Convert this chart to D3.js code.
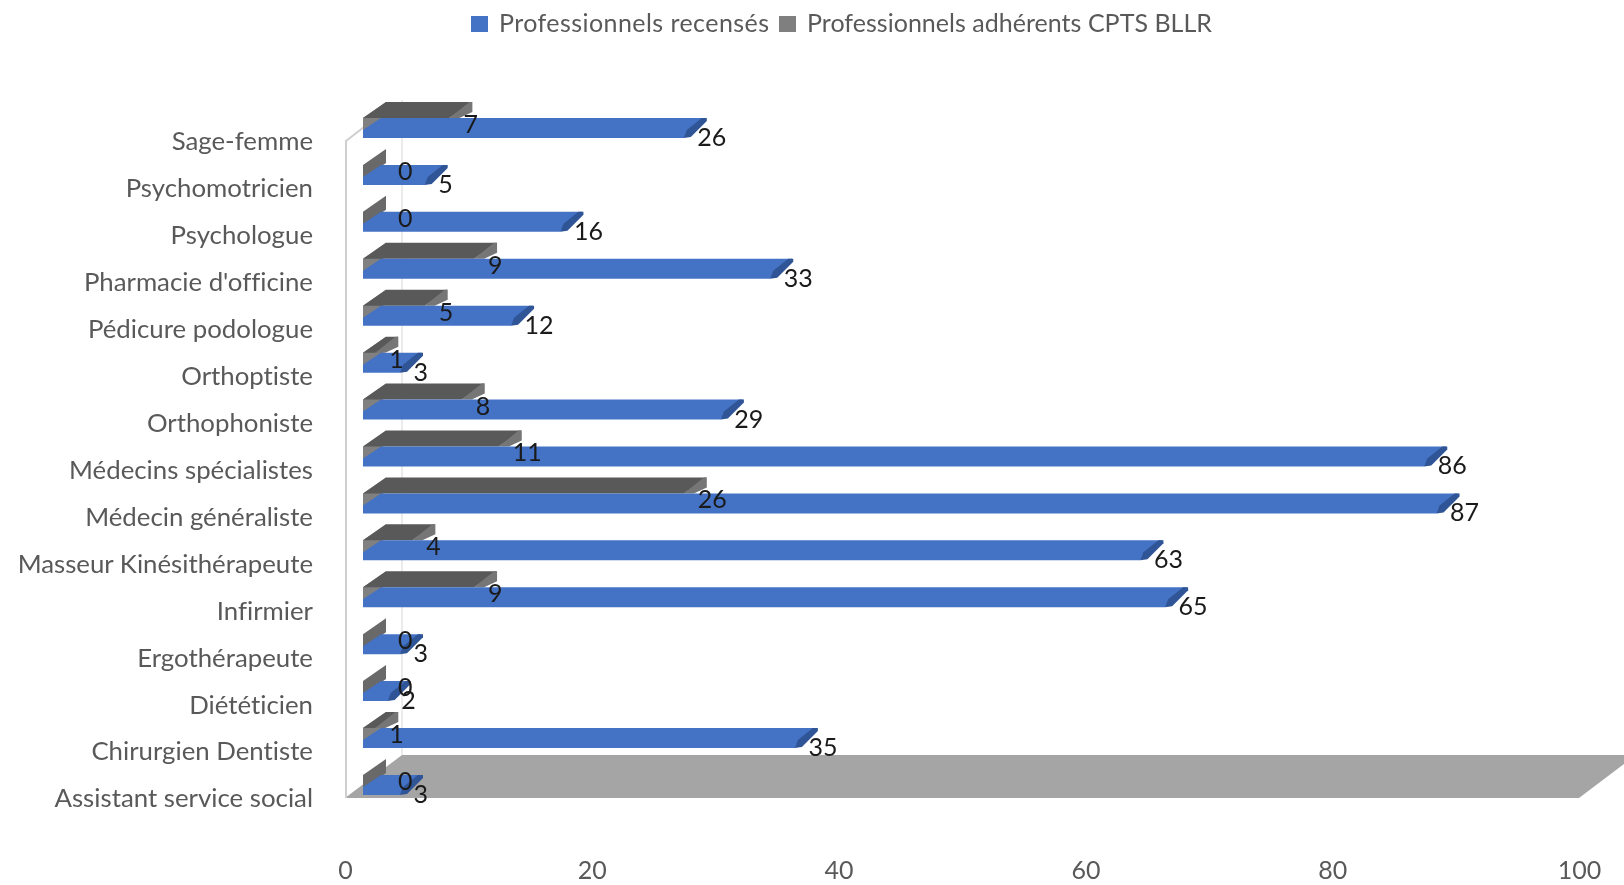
<!DOCTYPE html>
<html>
<head>
<meta charset="utf-8">
<script src="https://cdn.jsdelivr.net/npm/d3@7"></script>
<style>
	html, body {margin: 0; background: #fff;}
	svg {display: block; font-family: Lato, "Open Sans", sans-serif; font-variant-ligatures: none; filter: blur(0.6px);}
</style>
</head>
<body>
<div id="chart"></div>
<script>
const categories = ["Sage-femme", "Psychomotricien", "Psychologue", "Pharmacie d'officine", "Pédicure podologue", "Orthoptiste", "Orthophoniste", "Médecins spécialistes", "Médecin généraliste", "Masseur Kinésithérapeute", "Infirmier", "Ergothérapeute", "Diététicien", "Chirurgien Dentiste", "Assistant service social"];
const recenses = [26, 5, 16, 33, 12, 3, 29, 86, 87, 63, 65, 3, 2, 35, 3];
const adherents = [7, 0, 0, 9, 5, 1, 8, 11, 26, 4, 9, 0, 0, 1, 0];
const xTicks = [0, 20, 40, 60, 80, 100];
const seriesNames = ["Professionnels recensés", "Professionnels adhérents CPTS BLLR"];

const width = 1624, height = 885;
const barShift = 18; // bars sit part way into the 3d floor

let svg = d3.select("#chart").append("svg")
	.attr("width", width)
	.attr("height", height);

let xScale = d3.scaleLinear().domain([0, 100]).range([345, 1579]);
let yScale = d3.scaleBand().domain(categories).range([118.5, 822.4]);
let line = d3.line();

function poly(g, pts, color) {
	return g.append("path").attr("d", line(pts) + "Z").attr("fill", color);
}

// floor and walls
let x0 = xScale(0), x100 = xScale(100);
poly(svg, [[x0, 798], [x0 + 57, 755], [x100 + 57, 755], [x100, 798]], "#a5a5a5");
svg.append("path")
	.attr("d", line([[x0 + 1, 798], [x0 + 1, 141], [x0 + 19, 127]]))
	.attr("fill", "none").attr("stroke", "#cfcfcf").attr("stroke-width", 2);
svg.append("path")
	.attr("d", line([[x0 + 57, 100], [x0 + 57, 755]]))
	.attr("fill", "none").attr("stroke", "#dedede").attr("stroke-width", 1.2);

// bars, top row first so lower rows overlap
categories.forEach(function (cat, i) {
	let g = svg.append("g");
	let t = yScale(cat) - 0.5;
	let b = t + 20;
	let base = x0 + barShift;
	let gx = xScale(adherents[i]) + barShift;
	let bx = xScale(recenses[i]) + barShift;

	// grey series
	poly(g, [[base, t + 14], [base, t], [base + 23, t - 16], [base + 23, t - 2]], adherents[i] === 0 ? "#696969" : "#808080");
	if (adherents[i] > 0) {
		poly(g, [[base, t], [base + 23, t - 16], [gx + 23, t - 16], [gx, t]], "#595959");
		poly(g, [[gx, t], [gx + 20, t - 16], [gx + 23, t - 16], [gx + 23, t - 6], [gx + 10, t]], "#767676");
	}

	// blue series
	poly(g, [[base, b], [base, t + 12], [base + 18, t], [bx + 22, t], [bx, b]], "#4472c4");
	poly(g, [[bx, b], [bx + 7, b - 1], [bx + 23, t + 3], [bx + 23, t], [bx + 18, t], [bx + 3, b - 8]], "#2f5597");
});

// data labels after all bars
let labels = svg.append("g")
	.attr("font-size", 25)
	.attr("fill", "#1a1a1a")
	.attr("dominant-baseline", "central");
categories.forEach(function (cat, i) {
	let t = yScale(cat) - 0.5;
	labels.append("text")
		.attr("x", xScale(adherents[i]) + barShift + (adherents[i] === 0 ? 35 : 14))
		.attr("y", t + 5)
		.text(adherents[i]);
	labels.append("text")
		.attr("x", xScale(recenses[i]) + barShift + 13.5)
		.attr("y", t + 18)
		.text(recenses[i]);
});

// axes
let yAxis = svg.append("g")
	.attr("transform", "translate(313,0.2)")
	.call(d3.axisLeft(yScale).tickSize(0).tickPadding(0));
let xAxis = svg.append("g")
	.attr("transform", "translate(0,861)")
	.call(d3.axisBottom(xScale).tickValues(xTicks).tickSize(0).tickPadding(0));
[yAxis, xAxis].forEach(function (a) {
	a.select(".domain").remove();
	a.selectAll("text")
		.attr("font-family", "Lato, 'Open Sans', sans-serif")
		.attr("fill", "#595959");
});
yAxis.selectAll("text").attr("font-size", 25.8);
xAxis.selectAll("text").attr("font-size", 25);

// legend
let legendColors = ["#4472c4", "#7f7f7f"];
let legendX = [471, 779];
let legendLength = [270, 405];
seriesNames.forEach(function (name, i) {
	svg.append("rect")
		.attr("x", legendX[i]).attr("y", 16)
		.attr("width", 17).attr("height", 16)
		.attr("fill", legendColors[i]);
	svg.append("text")
		.attr("x", legendX[i] + 28).attr("y", 21.5)
		.attr("dominant-baseline", "central")
		.attr("font-size", 25)
		.attr("fill", "#595959")
		.attr("textLength", legendLength[i])
		.text(name);
});
</script>
</body>
</html>
